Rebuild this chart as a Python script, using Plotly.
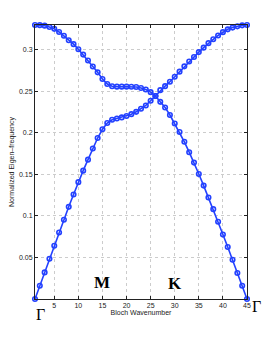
import plotly.graph_objects as go

wavenumber = list(range(1, 46))

band_from_zero = [0, 0.016, 0.032, 0.0484, 0.064, 0.080, 0.0952, 0.1108, 0.1256, 0.1405,
                  0.1543, 0.1675, 0.181, 0.1935, 0.204, 0.2115, 0.2155, 0.217, 0.2183, 0.2200,
                  0.2222, 0.2250, 0.2287, 0.2327, 0.2383, 0.2441, 0.2511, 0.2559, 0.2612, 0.2672,
                  0.2733, 0.2797, 0.2855, 0.291, 0.2968, 0.3022, 0.3076, 0.3122, 0.3168, 0.3208,
                  0.3242, 0.3263, 0.3278, 0.3290, 0.3294]

band_from_top = [0.3294, 0.3292, 0.3286, 0.3270, 0.3248, 0.3210, 0.3165, 0.3110, 0.3064, 0.3003,
                 0.2938, 0.2868, 0.2795, 0.2725, 0.2645, 0.2585, 0.2557, 0.2553, 0.2553, 0.2553,
                 0.2551, 0.2548, 0.2537, 0.2518, 0.2487, 0.2441, 0.2370, 0.2303, 0.2212, 0.2110,
                 0.2008, 0.1890, 0.1765, 0.1640, 0.1503, 0.1363, 0.1220, 0.1080, 0.0928, 0.0776,
                 0.0625, 0.0472, 0.0313, 0.0160, 0]

x_ticks = [5, 10, 15, 20, 25, 30, 35, 40, 45]
y_ticks = [0.05, 0.1, 0.15, 0.2, 0.25, 0.3]
y_tick_labels = ["0.05", "0.1", "0.15", "0.2", "0.25", "0.3"]

blue = "rgb(35,65,255)"

fig = go.Figure()
for band in (band_from_zero, band_from_top):
    fig.add_trace(go.Scatter(
        x=wavenumber, y=band, mode="lines+markers",
        line=dict(color=blue, width=1.6),
        marker=dict(symbol="circle-open", size=4.5, color=blue, line=dict(width=1.6, color=blue)),
        cliponaxis=False, showlegend=False))

axis_common = dict(showline=True, linecolor="#222", linewidth=1, mirror="ticks",
                   ticks="inside", ticklen=3, tickcolor="#222", automargin=False,
                   showgrid=True, gridcolor="#cccccc", griddash="dot", gridwidth=1,
                   zeroline=False, tickfont=dict(family="Liberation Sans, Arial", size=7, color="#222"))

fig.update_xaxes(range=[1, 45], tickvals=x_ticks,
                 title=dict(text="Bloch Wavenumber", font=dict(family="Liberation Sans, Arial", size=7, color="#222"), standoff=1),
                 **axis_common)
fig.update_yaxes(range=[0, 0.3294], tickvals=y_ticks, ticktext=y_tick_labels,
                 title=dict(text="Normalized Eigen\u2013frequency", font=dict(family="Liberation Sans, Arial", size=7, color="#222"), standoff=4),
                 **axis_common)

serif = "Liberation Serif, Times New Roman"
fig.add_annotation(x=15, y=0.0193, xref="x", yref="y", text="<b>M</b>", showarrow=False,
                   font=dict(family=serif, size=17, color="black"))
fig.add_annotation(x=30, y=0.0185, xref="x", yref="y", text="<b>K</b>", showarrow=False,
                   font=dict(family=serif, size=17, color="black"))
fig.add_annotation(x=0.026, y=-0.055, xref="paper", yref="paper", text="\u0393", showarrow=False,
                   xanchor="center", yanchor="middle",
                   font=dict(family=serif, size=16, color="black"))
fig.add_annotation(x=1.045, y=-0.027, xref="paper", yref="paper", text="\u0393", showarrow=False,
                   xanchor="center", yanchor="middle",
                   font=dict(family=serif, size=16, color="black"))

# page body has a default 8px margin, so the figure is offset by 8px
fig.update_layout(width=257, height=321, margin=dict(l=27, r=18, t=17, b=30),
                  paper_bgcolor="white", plot_bgcolor="white")

fig.write_html("out.html")
